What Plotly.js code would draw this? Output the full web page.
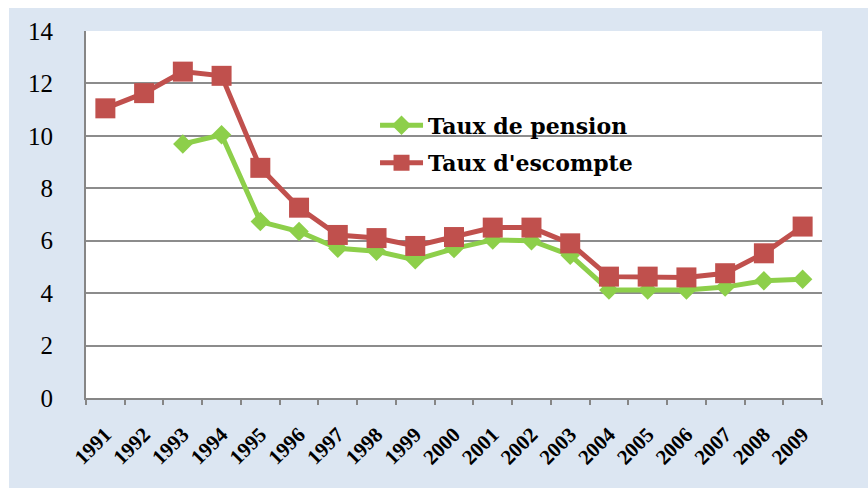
<!DOCTYPE html>
<html>
<head>
<meta charset="utf-8">
<script src="https://cdn.plot.ly/plotly-3.0.1.min.js"></script>
<style>
html,body{margin:0;padding:0;background:#ffffff;}
#chart{position:absolute;left:9px;top:8px;width:859px;height:480px;}
</style>
</head>
<body>
<div id="chart"></div>
<script>
const years = ["1991","1992","1993","1994","1995","1996","1997","1998","1999","2000","2001","2002","2003","2004","2005","2006","2007","2008","2009"];
const tauxPension = [null,null,9.69,10.04,6.73,6.35,5.71,5.6,5.27,5.7,6.03,6.0,5.45,4.12,4.12,4.12,4.23,4.47,4.53];
const tauxEscompte = [11.05,11.63,12.45,12.29,8.78,7.26,6.22,6.1,5.8,6.14,6.5,6.5,5.9,4.63,4.63,4.6,4.76,5.52,6.54];
const yTicks = [0,2,4,6,8,10,12,14];

const font = "Liberation Serif";
const legendFont = "DejaVu Serif";

const traces = [
  {
    x: years, y: tauxPension, name: "Taux de pension", type: "scatter", mode: "lines+markers",
    line: {color: "#8DCF4A", width: 5},
    marker: {symbol: "diamond", size: 15, color: "#8DCF4A"},
    legendgroup: "a", connectgaps: false
  },
  {
    x: years, y: tauxEscompte, name: "Taux d'escompte", type: "scatter", mode: "lines+markers",
    line: {color: "#C0504D", width: 5},
    marker: {symbol: "square", size: 20, color: "#C0504D"},
    legendgroup: "b"
  }
];

const layout = {
  width: 859, height: 480,
  paper_bgcolor: "#DCE6F2",
  plot_bgcolor: "#FFFFFF",
  margin: {l: 77, r: 46, t: 23, b: 90, pad: 0},
  font: {family: font, color: "#000000"},
  showlegend: true,
  legend: {
    x: 0.3927, y: 0.80, xanchor: "left", yanchor: "top",
    bgcolor: "rgba(0,0,0,0)",
    font: {family: legendFont, size: 22, color: "#000000", weight: "bold"},
    traceorder: "grouped", tracegroupgap: 6, itemwidth: 43
  },
  xaxis: {
    type: "category",
    tickangle: -45,
    tickfont: {family: font, size: 21, color: "#000000", weight: "bold"},
    showline: true, linecolor: "#868686", linewidth: 2,
    ticks: "outside", tickson: "boundaries", ticklen: 5, tickcolor: "#868686", tickwidth: 2,
    showgrid: false, zeroline: false, ticklabelstandoff: 14,
    range: [-0.5, 18.5]
  },
  yaxis: {
    range: [0, 14],
    tickmode: "array", tickvals: yTicks, ticktext: yTicks.map(String),
    tickfont: {family: font, size: 25, color: "#000000"},
    showline: true, linecolor: "#868686", linewidth: 2,
    showgrid: true, gridcolor: "#8C8C8C", gridwidth: 2,
    zeroline: false, ticks: "", ticklabelstandoff: 26
  }
};

Plotly.newPlot("chart", traces, layout, {displayModeBar: false, staticPlot: true});
</script>
</body>
</html>
